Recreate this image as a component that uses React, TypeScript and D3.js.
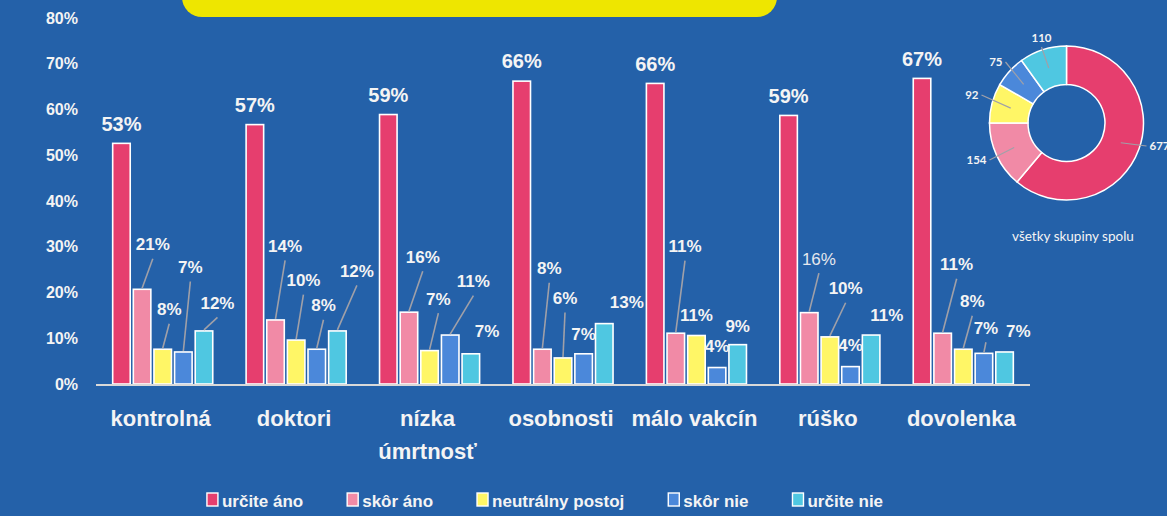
import React, { useRef, useEffect } from "react";
import * as d3 from "d3";

const W = 1167;
const H = 516;

// ---- data ----
const categories = ["kontrolná", "doktori", "nízka\númrtnosť", "osobnosti", "málo vakcín", "rúško", "dovolenka"];
const seriesNames = ["určite áno", "skôr áno", "neutrálny postoj", "skôr nie", "určite nie"];
const urciteAno = [0.526, 0.567, 0.589, 0.662, 0.657, 0.587, 0.668];
const skorAno = [0.207, 0.14, 0.157, 0.076, 0.111, 0.156, 0.111];
const neutralny = [0.076, 0.096, 0.073, 0.057, 0.106, 0.103, 0.076];
const skorNie = [0.07, 0.076, 0.107, 0.066, 0.036, 0.038, 0.067];
const urciteNie = [0.116, 0.116, 0.066, 0.132, 0.086, 0.107, 0.07];
const yTicks = [0, 0.1, 0.2, 0.3, 0.4, 0.5, 0.6, 0.7, 0.8];
const donutValues = [677, 154, 92, 75, 110];
const donutCaption = "všetky skupiny spolu";

// ---- styles / layout ----
const BG = "#2461A9";
const COLORS = ["#E63E6E", "#F18AA6", "#FFF666", "#4B88DA", "#4FC7E1"];
const TEXT = "#F4F4F4";
const LEADER = "#A0A0A8";
const FONT = "'Liberation Sans', Arial, sans-serif";

// label offsets relative to bar top-centre: [dx, dy, hasLeader]
const labelOffsets: number[][][] = [
  [[0, -20, 0], [0, -20, 0], [0, -20, 0], [0, -20, 0], [0, -20, 0], [0, -20, 0], [0, -20, 0]],
  [[10.7, -45, 1], [9.6, -74, 1], [13.8, -55.5, 1], [6.9, -81, 1], [9.2, -87, 1], [9.7, -54, 1], [14, -69, 1]],
  [[6.5, -40, 1], [7.3, -60, 1], [8.8, -52, 1], [2, -60, 1], [0, -20.5, 0], [15.8, -48.6, 1], [9, -48, 1]],
  [[7, -85, 1], [6.7, -44, 1], [23.2, -54, 1], [0, -19.5, 0], [0, -21.6, 0], [0, -21.6, 0], [2, -25.6, 1]],
  [[13.5, -28, 1], [19.5, -60, 1], [16.3, -23, 0], [22.5, -22, 0], [0, -19, 0], [15.6, -20, 0], [13.8, -21, 0]],
];
// donut label leader end points relative to centre, and anchor
const donutLabelPos: [number, number, string][] = [
  [80, 23, "start"],
  [-77, 37, "end"],
  [-85, -28, "end"],
  [-61, -61, "end"],
  [-25, -76, "middle"],
];

export default function App() {
  const ref = useRef<SVGSVGElement>(null);

  useEffect(() => {
    const svg = d3.select(ref.current);
    svg.selectAll("*").remove();

    svg.append("rect").attr("width", W).attr("height", H).attr("fill", BG);

    // title banner (cut off at top)
    svg.append("rect").attr("x", 182).attr("y", -40).attr("width", 595).attr("height", 57)
      .attr("rx", 20).attr("fill", "#EEE600");

    const series = [urciteAno, skorAno, neutralny, skorNie, urciteNie];

    const x0 = d3.scaleBand<string>().domain(categories).range([96, 1030])
      .paddingInner(0.25).paddingOuter(0.125);
    const x1 = d3.scaleBand<string>().domain(seriesNames).range([0, x0.bandwidth()])
      .paddingInner(0.15).paddingOuter(0);
    const y = d3.scaleLinear().domain([0, 0.8]).range([384, 18]);
    const fmt = d3.format(".0%");

    // y tick labels
    svg.append("g").selectAll("text").data(yTicks).join("text")
      .attr("x", 78).attr("y", (d) => y(d) + 5.5)
      .attr("text-anchor", "end")
      .attr("font-family", FONT).attr("font-weight", "bold").attr("font-size", 16)
      .attr("fill", TEXT).text((d) => fmt(d));

    // bars
    const gBars = svg.append("g");
    series.forEach((vals, si) => {
      gBars.selectAll(null).data(vals).join("rect")
        .attr("x", (d, ci) => x0(categories[ci])! + x1(seriesNames[si])!)
        .attr("y", (d) => y(d))
        .attr("width", x1.bandwidth())
        .attr("height", (d) => y(0) - y(d))
        .attr("fill", COLORS[si])
        .attr("stroke", "#FFFFFF").attr("stroke-width", 1.6);
    });

    // axis baseline
    svg.append("line").attr("x1", 96).attr("x2", 1030).attr("y1", y(0) + 1).attr("y2", y(0) + 1)
      .attr("stroke", "#D9D9D9").attr("stroke-width", 2.2);

    // labels with leaders
    const gLab = svg.append("g");
    series.forEach((vals, si) => {
      vals.forEach((v, ci) => {
        const cx = x0(categories[ci])! + x1(seriesNames[si])! + x1.bandwidth() / 2;
        const top = y(v);
        const [dx, dy, lead] = labelOffsets[si][ci];
        const tx = cx + dx;
        const ty = top + dy;
        const fs = si === 0 ? 20 : 17;
        if (lead) {
          gLab.append("line").attr("x1", tx).attr("y1", ty + 14.5).attr("x2", cx).attr("y2", top - 1)
            .attr("stroke", LEADER).attr("stroke-width", 1.6);
        }
        const light = si === 1 && ci === 5;
        gLab.append("text").attr("x", tx).attr("y", ty + fs * 0.36)
          .attr("text-anchor", "middle")
          .attr("font-family", FONT).attr("font-weight", light ? "normal" : "bold")
          .attr("font-size", fs).attr("fill", light ? "#E6E8EE" : TEXT)
          .text(fmt(v));
      });
    });

    // category labels
    const gCat = svg.append("g");
    categories.forEach((c) => {
      const cx = x0(c)! + x0.bandwidth() / 2;
      c.split("\n").forEach((line, li) => {
        gCat.append("text").attr("x", cx - 2).attr("y", 426 + li * 33)
          .attr("text-anchor", "middle")
          .attr("font-family", FONT).attr("font-weight", "bold").attr("font-size", 22)
          .attr("fill", TEXT).text(line);
      });
    });

    // legend
    const gLeg = svg.append("g");
    const items = seriesNames.map((name, i) => {
      const g = gLeg.append("g");
      g.append("rect").attr("x", 0).attr("y", -7).attr("width", 11).attr("height", 13)
        .attr("fill", COLORS[i]).attr("stroke", "#FFFFFF").attr("stroke-width", 1.4);
      const t = g.append("text").attr("x", 15).attr("y", 6.5)
        .attr("font-family", FONT).attr("font-weight", "bold").attr("font-size", 17)
        .attr("fill", TEXT).text(name);
      const w = 15 + (t.node() as SVGTextElement).getComputedTextLength();
      return { g, w };
    });
    const gap = 44;
    const total = d3.sum(items, (d) => d.w) + gap * (items.length - 1);
    let cur = 545 - total / 2;
    items.forEach((it) => {
      it.g.attr("transform", `translate(${cur},500)`);
      cur += it.w + gap;
    });

    // donut
    const dcx = 1066.5, dcy = 123;
    const pie = d3.pie<number>().sort(null).value((d) => d);
    const arc = d3.arc<d3.PieArcDatum<number>>().innerRadius(38.5).outerRadius(77);
    const arcs = pie(donutValues);
    const gD = svg.append("g").attr("transform", `translate(${dcx},${dcy})`);
    gD.selectAll("path").data(arcs).join("path")
      .attr("d", arc as any).attr("fill", (d, i) => COLORS[i])
      .attr("stroke", "#FFFFFF").attr("stroke-width", 1.5);
    arcs.forEach((a, i) => {
      const [sx, sy] = arc.centroid(a);
      const [ex, ey, anchor] = donutLabelPos[i];
      gD.append("line").attr("x1", sx).attr("y1", sy).attr("x2", ex).attr("y2", ey)
        .attr("stroke", LEADER).attr("stroke-width", 1.2);
      const tx = anchor === "start" ? ex + 3 : anchor === "end" ? ex - 3 : ex;
      const ty = anchor === "middle" ? ey - 9 + 4 : ey + 4;
      gD.append("text").attr("x", tx).attr("y", ty).attr("text-anchor", anchor)
        .attr("font-family", "Lato, 'Open Sans', sans-serif").attr("font-weight", "bold")
        .attr("font-size", 11.5).attr("fill", TEXT).text(a.data);
    });
    svg.append("text").attr("x", 1073).attr("y", 241).attr("text-anchor", "middle")
      .attr("font-family", "Lato, 'Open Sans', sans-serif").attr("font-size", 13.5)
      .attr("fill", TEXT).text(donutCaption);
  }, []);

  return (
    <svg ref={ref} width={W} height={H}
      style={{ position: "absolute", left: 0, top: 0, display: "block" }} />
  );
}
